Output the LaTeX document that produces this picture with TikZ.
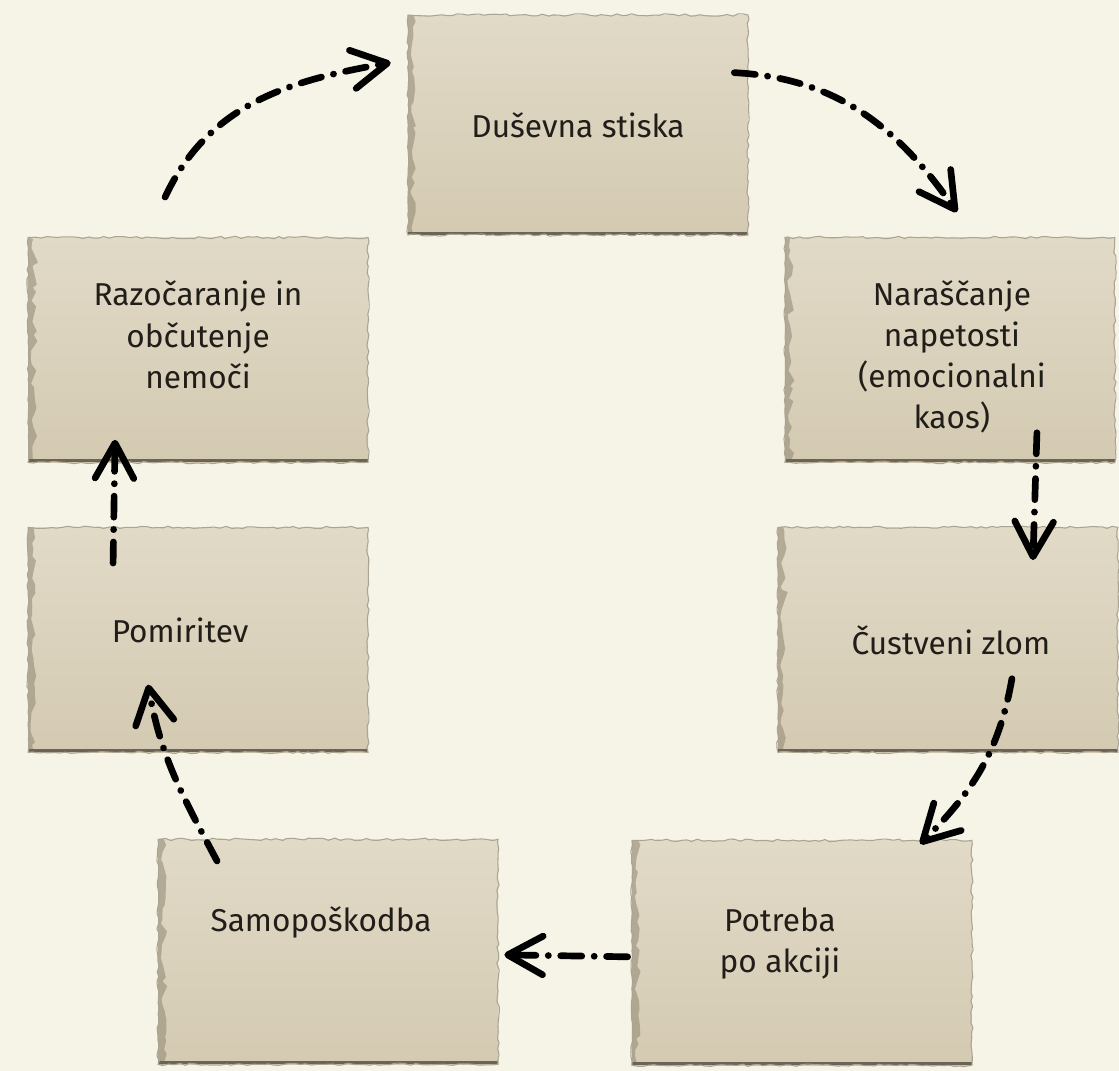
\documentclass[tikz,border=0pt]{standalone}
\usepackage{fontspec}
\setmainfont{Fira Sans}
\usetikzlibrary{arrows.meta, decorations.pathmorphing, positioning}
\definecolor{bgcream}{HTML}{F6F4E6}
\definecolor{paperlight}{HTML}{E1DAC7}
\definecolor{paperdark}{HTML}{D4CAB2}
\definecolor{paperedge}{HTML}{968D78}
\definecolor{edgedark}{HTML}{6A6356}
\definecolor{ink}{HTML}{211D19}
\tikzstyle{paper} = [rectangle, inner sep=0pt, minimum width=6.8cm, minimum height=4.5cm, top color=paperlight, bottom color=paperdark,
  path picture={
    \draw[paperedge, line width=6pt, opacity=0.6, decorate, decoration={random steps, segment length=4pt, amplitude=1.8pt}] (path picture bounding box.north west) -- (path picture bounding box.south west);
    \draw[edgedark, line width=1.8pt] ([yshift=0.9pt]path picture bounding box.south west) -- ([yshift=0.9pt]path picture bounding box.south east);
  },
  postaction={draw=paperedge!80, line width=0.6pt, decorate, decoration={random steps, segment length=3pt, amplitude=0.7pt}}]
\tikzstyle{lbl} = [align=center, text=ink, font=\fontsize{18}{23.5}\selectfont]
\tikzstyle{flow} = [draw=black, line width=3.8pt, line cap=round, dash pattern=on 12pt off 7pt on 0.1pt off 7pt, -{Straight Barb[length=20pt, width=22pt, line cap=round, line join=round]}]

\begin{document}
\begin{tikzpicture}[x=0.02cm, y=0.02cm, node distance=5.8cm]
\useasboundingbox (0,0) rectangle (1119,1071);
\fill[bgcream] (0,0) rectangle (1119,1071);

% paper boxes round the cycle
\node (stiska) [paper, minimum height=4.4cm] at (578,946) {};
\node (napetost) [paper, minimum width=6.6cm, below of=stiska, xshift=7.44cm, yshift=1.3cm] {};
\node (zlom) [paper, below of=napetost, xshift=-0.04cm] {};
\node (akcija) [paper, below of=zlom, xshift=-2.92cm, yshift=-0.46cm] {};
\node (poskodba) [paper, left of=akcija, xshift=-3.68cm, yshift=0.02cm] {};
\node (pomiritev) [paper, above of=poskodba, xshift=-2.6cm, yshift=0.44cm] {};
\node (razocaranje) [paper, above of=pomiritev] {};

% texts
\node (stiskatext) [lbl] at (stiska) {Duševna stiska};
\node (napetosttext) [lbl, xshift=0.04cm, yshift=-0.14cm] at (napetost) {Naraščanje\\napetosti\\(emocionalni\\kaos)};
\node (zlomtext) [lbl, xshift=0.06cm] at (zlom) {Čustveni zlom};
\node (akcijatext) [lbl, xshift=-0.44cm, yshift=0.18cm] at (akcija) {Potreba\\po akciji};
\node (poskodbatext) [lbl, xshift=-0.14cm, yshift=0.58cm] at (poskodba) {Samopoškodba};
\node (pomiritevtext) [lbl, xshift=-0.36cm, yshift=0.2cm] at (pomiritev) {Pomiritev};
\node (razocaranjetext) [lbl, yshift=0.3cm] at (razocaranje) {Razočaranje in\\občutenje\\nemoči};

\draw[flow] ([shift={(-33,40)}]razocaranje.north) to[out=65, in=190] ([shift={(-17,-48)}]stiska.north west);
\draw[flow] ([shift={(-14,-58)}]stiska.north east) to[out=-3, in=125] ([shift={(7,25)}]napetost.north);
\draw[flow] ([shift={(87,30)}]napetost.south) -- ([shift={(85,-33)}]zlom.north);
\draw[flow] ([shift={(64,74)}]zlom.south) to[out=-100, in=45] ([shift={(-52,-4)}]akcija.north east);
\draw[flow] ([shift={(-4,-4)}]akcija.west) -- ([shift={(6,-3)}]poskodba.east);
\draw[flow] ([shift={(-111,-22)}]poskodba.north) to[out=118, in=-80] ([shift={(-50,68)}]pomiritev.south);
\draw[flow] ([shift={(-85,-36)}]pomiritev.north) -- ([shift={(-83,23)}]razocaranje.south);
\end{tikzpicture}
\end{document}
